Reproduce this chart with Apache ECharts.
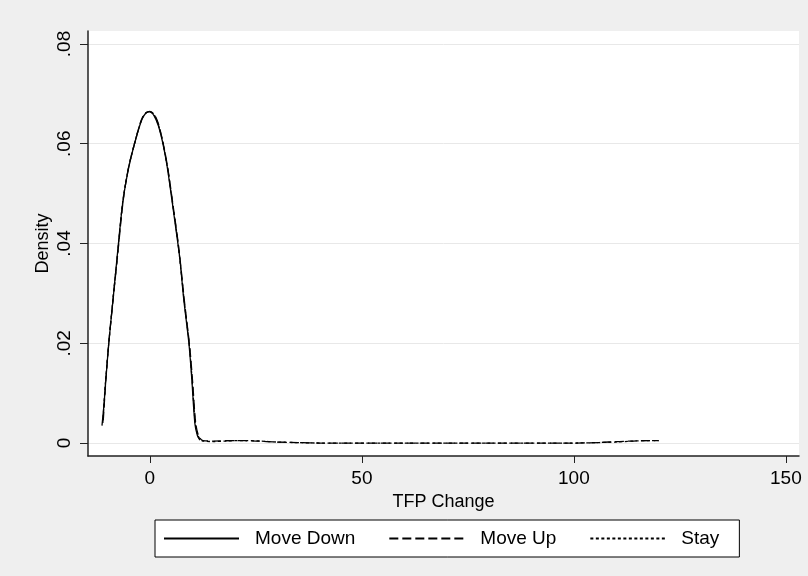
<!DOCTYPE html>
<html>
<head>
<meta charset="utf-8">
<script src="https://cdn.jsdelivr.net/npm/echarts@6/dist/echarts.min.js"></script>
<style>
  html, body { margin: 0; padding: 0; background: #efefef; }
  #main { width: 808px; height: 576px; }
</style>
</head>
<body>
<div id="main"></div>
<script>
// kernel density, [tfp change, density]
const moveDown = [
  [-11.3, 0.0035], [-10.8, 0.008], [-10.4, 0.0126], [-9.7, 0.020], [-8.7, 0.0287],
  [-7.8, 0.0367], [-6.4, 0.0482], [-5.0, 0.0552], [-3.5, 0.0604], [-2.0, 0.0646],
  [-1.0, 0.0661], [0.0, 0.0664], [1.0, 0.0656], [2.0, 0.0636], [3.0, 0.0603],
  [4.0, 0.0558], [5.2, 0.0487], [6.6, 0.0400], [7.1, 0.0367], [8.0, 0.0287],
  [9.2, 0.0200], [9.9, 0.0126], [10.6, 0.0040], [11.2, 0.0015], [11.8, 0.0006]
]
const moveUp = [
  [-11.0, 0.0045], [-10.4, 0.0125], [-9.6, 0.021], [-8.6, 0.0295], [-7.6, 0.0378],
  [-6.3, 0.0486], [-5.0, 0.0554], [-3.4, 0.0607], [-2.0, 0.0648], [-1.0, 0.0662],
  [0.0, 0.0665], [1.0, 0.0659], [2.0, 0.0640], [3.1, 0.0602], [4.2, 0.0552],
  [5.4, 0.0480], [6.8, 0.0392], [8.2, 0.0280], [9.4, 0.0192], [10.1, 0.0120],
  [10.8, 0.0040], [11.5, 0.0014], [12.5, 0.0005], [15, 0.0004], [20, 0.0005],
  [25, 0.0004], [30, 0.0002], [35, 0.0001], [40, 0.0], [60, 0.0], [80, 0.0],
  [100, 0.0], [106, 0.0001], [110, 0.0003], [114, 0.0004], [118, 0.0005], [120, 0.0005]
]
const stay = [
  [-11.1, 0.0040], [-10.5, 0.0120], [-9.7, 0.020], [-8.7, 0.0290], [-7.7, 0.0372],
  [-6.4, 0.0484], [-5.0, 0.0553], [-3.5, 0.0605], [-2.0, 0.0647], [-1.0, 0.0661],
  [0.0, 0.0664], [1.0, 0.0658], [2.0, 0.0638], [3.0, 0.0604], [4.1, 0.0555],
  [5.3, 0.0484], [6.7, 0.0396], [8.1, 0.0284], [9.3, 0.0196], [10.0, 0.0122],
  [10.7, 0.0040], [11.4, 0.0014], [12.5, 0.0004], [15, 0.0003], [18, 0.0004],
  [22, 0.0005], [26, 0.0004], [30, 0.0002], [34, 0.0001], [40, 0.0], [60, 0.0],
  [80, 0.0], [100, 0.0], [106, 0.0001], [110, 0.0002], [114, 0.0004], [118, 0.0005],
  [120, 0.0005]
]
const xTicks = [0, 50, 100, 150]
const yTicks = [0, 0.02, 0.04, 0.06, 0.08]
const seriesNames = ['Move Down', 'Move Up', 'Stay']

const font = 'Liberation Sans, Arial, sans-serif'
const chart = echarts.init(document.getElementById('main'))

const mkLine = (name, data, dash) => ({
  name: name,
  type: 'line',
  data: data,
  smooth: 0.3,
  symbol: 'none',
  lineStyle: { color: '#000', width: 1.3, type: dash },
  itemStyle: { color: '#000' },
  z: 3,
})

chart.setOption({
  backgroundColor: '#efefef',
  animation: false,
  grid: {
    left: 88, top: 31, right: 9, bottom: 120,
    show: true, backgroundColor: '#fff', borderWidth: 0,
  },
  legend: {
    data: seriesNames,
    left: 155, top: 520,
    padding: [9, 20, 9, 8],
    itemWidth: 75, itemHeight: 14, itemGap: 33,
    itemStyle: { opacity: 0 },
    backgroundColor: '#fff',
    borderColor: '#000', borderWidth: 1,
    textStyle: { fontFamily: font, fontSize: 19, color: '#000', padding: [0, 0, 0, 11] },
  },
  xAxis: {
    type: 'value',
    min: -14.6, max: 153.1,
    name: 'TFP Change',
    nameLocation: 'middle',
    nameGap: 34,
    nameTextStyle: { fontFamily: font, fontSize: 18, color: '#000' },
    axisLine: { show: true, onZero: false, lineStyle: { color: '#222', width: 1.5 } },
    axisTick: { show: true, length: 7, customValues: xTicks, lineStyle: { color: '#222' } },
    axisLabel: { customValues: xTicks, fontFamily: font, fontSize: 19, color: '#000', margin: 13 },
    splitLine: { show: false },
  },
  yAxis: {
    type: 'value',
    min: -0.0026, max: 0.0826,
    name: 'Density',
    nameLocation: 'middle',
    nameGap: 36,
    nameMoveOverlap: false,
    nameTextStyle: { fontFamily: font, fontSize: 18, color: '#000' },
    axisLine: { show: true, onZero: false, lineStyle: { color: '#222', width: 1.5 } },
    axisTick: { show: true, length: 8, customValues: yTicks, lineStyle: { color: '#222' } },
    axisLabel: {
      customValues: yTicks,
      rotate: 90,
      fontFamily: font, fontSize: 19, color: '#000', margin: 14,
      formatter: v => (v === 0 ? '0' : String(+v.toFixed(2)).replace(/^0/, '')),
    },
    splitLine: { show: true, lineStyle: { color: '#e8e8e8', width: 1 } },
  },
  series: [
    mkLine(seriesNames[0], moveDown, 'solid'),
    mkLine(seriesNames[1], moveUp, [9, 4]),
    mkLine(seriesNames[2], stay, [3, 2.5]),
  ],
})
</script>
</body>
</html>
